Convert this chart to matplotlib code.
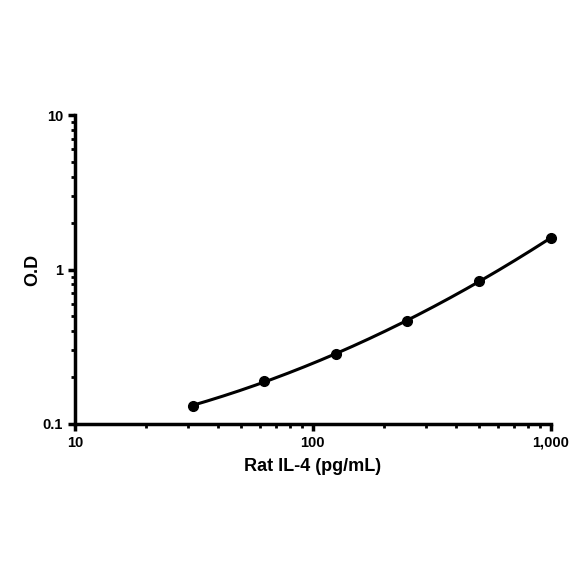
import numpy as np
import matplotlib.pyplot as plt
from matplotlib.ticker import FixedLocator, LogLocator, NullFormatter

# standard curve values
conc = [31.25, 62.5, 125, 250, 500, 1000]
od = [0.131, 0.19, 0.284, 0.464, 0.843, 1.6]
x_ticks = [10, 100, 1000]
x_labels = ["10", "100", "1,000"]
y_ticks = [0.1, 1, 10]
y_labels = ["0.1", "1", "10"]

plt.rcParams['font.family'] = ['Liberation Sans', 'DejaVu Sans']
plt.rcParams['font.weight'] = 'bold'

fig = plt.figure(figsize=(5.84, 5.84), dpi=100)
ax = fig.add_axes([0.128, 0.274, 0.815, 0.529])

# smooth fitted curve in log-log space
lx = np.log10(conc)
ly = np.log10(od)
coef = np.polyfit(lx, ly, 2)
xs = np.linspace(lx[0], lx[-1], 200)
ax.plot(10 ** xs, 10 ** np.polyval(coef, xs), color='black', lw=2.2, clip_on=False)
ax.plot(conc, od, 'o', color='black', ms=7, clip_on=False)

ax.set_xscale('log')
ax.set_yscale('log')
ax.set_xlim(10, 1000)
ax.set_ylim(0.1, 10)

ax.xaxis.set_major_locator(FixedLocator(x_ticks))
ax.set_xticklabels(x_labels)
ax.yaxis.set_major_locator(FixedLocator(y_ticks))
ax.set_yticklabels(y_labels)
ax.xaxis.set_minor_locator(LogLocator(base=10, subs=np.arange(2, 10)))
ax.yaxis.set_minor_locator(LogLocator(base=10, subs=np.arange(2, 10)))
ax.xaxis.set_minor_formatter(NullFormatter())
ax.yaxis.set_minor_formatter(NullFormatter())

for side in ['top', 'right']:
    ax.spines[side].set_visible(False)
for side in ['left', 'bottom']:
    ax.spines[side].set_linewidth(2.5)

ax.tick_params(which='major', direction='out', length=5, width=2.5, labelsize=10.5)
ax.tick_params(which='minor', direction='out', length=3, width=2)

ax.set_xlabel("Rat IL-4 (pg/mL)", fontsize=13, fontweight='bold', labelpad=6)
ax.set_ylabel("O.D", fontsize=13, fontweight='bold', labelpad=1)

fig.savefig('out.png', dpi=100)
